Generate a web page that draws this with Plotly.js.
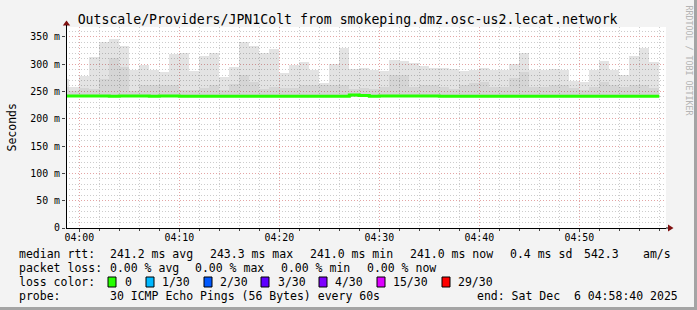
<!DOCTYPE html>
<html><head><meta charset="utf-8">
<script src="https://cdn.plot.ly/plotly-3.0.1.min.js"></script>
<style>html,body{margin:0;padding:0;background:#f3f3f3;overflow:hidden}#chart{width:697px;height:310px}</style>
</head><body><div id="chart"></div>
<script>
// ---------- data ----------
const day = '2025-12-06 ';
const firstStepStart = '03:58';
const stepEnds = ['03:59','04:00','04:01','04:02','04:03','04:04','04:05','04:06','04:07','04:08','04:09',
  '04:10','04:11','04:12','04:13','04:14','04:15','04:16','04:17','04:18','04:19',
  '04:20','04:21','04:22','04:23','04:24','04:25','04:26','04:27','04:28','04:29',
  '04:30','04:31','04:32','04:33','04:34','04:35','04:36','04:37','04:38','04:39',
  '04:40','04:41','04:42','04:43','04:44','04:45','04:46','04:47','04:48','04:49',
  '04:50','04:51','04:52','04:53','04:54','04:55','04:56','04:57','04:58'];
const smokeFloor = 240;
const smokeMax = [272,258,278,313,340,346,333,290,298,290,285,319,320,288,315,321,276,294,340,333,
  321,327,284,299,304,289,266,300,330,291,293,289,288,307,305,302,297,293,293,292,
  288,290,293,289,290,301,321,290,290,292,289,270,267,290,305,290,280,315,330,304];
const smokeInner = [258,250,256,255,272,311,295,250,261,261,261,261,252,252,256,262,252,263,281,267,
  254,258,257,257,261,262,261,261,261,255,256,255,258,281,280,258,261,261,258,255,
  261,266,267,258,258,274,286,258,258,262,262,256,253,258,267,261,258,261,261,257];
const medianRtt = [241.5,241.5,241.5,241.5,241.5,241.0,241.5,241.5,241.5,241.0,241.5,241.5,
  241.0,241.0,241.0,241.0,241.0,241.0,241.0,241.0,241.0,241.0,241.0,241.0,241.0,241.0,241.0,241.0,241.0,
  243.3,242.8,241.0,241.5,241.5,241.5,241.5,241.5,241.5,
  241.0,241.0,241.0,241.0,241.0,241.0,241.0,241.0,241.0,241.0,241.0,241.0,241.0,241.0,241.0,241.0,241.0,241.0,241.0,241.0,241.0,241.0];
const yTickVals = [0,50,100,150,200,250,300,350];
const yTickText = ['0','50 m','100 m','150 m','200 m','250 m','300 m','350 m'];
const titleText = 'Outscale/Providers/JPN1Colt from smokeping.dmz.osc-us2.lecat.network';
const rowLabels = ['median rtt:','packet loss:','loss color:','probe:'];
const statsRtt = ['241.2 ms avg','243.3 ms max','241.0 ms min','241.0 ms now','0.4 ms sd','542.3','am/s'];
const statsLoss = ['0.00 % avg','0.00 % max','0.00 % min','0.00 % now'];
const lossLabels = ['0','1/30','2/30','3/30','4/30','15/30','29/30'];
const lossColors = ['#26ff00','#00b8ff','#0059ff','#5e00ff','#7e00ff','#dd00ff','#ff0000'];
const probeText = '30 ICMP Echo Pings (56 Bytes) every 60s';
const endText = 'end: Sat Dec\u00a0\u00a06 04:58:40 2025';

// ---------- layout geometry (pixels) ----------
const W = 697, H = 310, L = 66, R = 666, T = 27, B = 228;
const px = x => (x - L) / (R - L);
const py = y => (B - y) / (B - T);
const rowY = [254, 268, 282, 296];
const rttX = [108, 208, 308, 408, 508, 582, 641];
const lossX = [108, 192.5, 279, 364.5];
const boxX = [108, 146, 204, 261, 319, 377, 442];
const boxLabelX = [123, 160, 218, 275.5, 333, 391, 456];
const mono = 'DejaVu Sans Mono, monospace';

const times = stepEnds.map(t => day + t);
const traces = [
  {type:'bar', x:times, base:smokeFloor, y:smokeMax.map(v => v - smokeFloor), width:60000, offset:-60000,
   marker:{color:'rgba(0,0,0,0.11)', line:{width:0}}, hoverinfo:'skip'},
  {type:'bar', x:times, base:smokeFloor, y:smokeInner.map(v => v - smokeFloor), width:60000, offset:-60000,
   marker:{color:'rgba(0,0,0,0.06)', line:{width:0}}, hoverinfo:'skip'},
  {type:'scatter', mode:'lines', x:[day + firstStepStart].concat(times.slice(0, -1)).concat([times[times.length-1]]),
   y:medianRtt.concat([medianRtt[medianRtt.length-1]]), line:{shape:'hv', width:3, color:lossColors[0]}, hoverinfo:'skip'}
];

const ann = [];
const txt = (x, y, text, opts) => ann.push(Object.assign({xref:'paper', yref:'paper', x:px(x), y:py(y), text:text,
  showarrow:false, xanchor:'left', yanchor:'middle', font:{family:mono, size:11.5, color:'#000'}}, opts || {}));
rowLabels.forEach((t, i) => txt(16.5, rowY[i], t));
statsRtt.forEach((t, i) => txt(rttX[i], rowY[0], t));
statsLoss.forEach((t, i) => txt(lossX[i], rowY[1], t));
lossLabels.forEach((t, i) => txt(boxLabelX[i], rowY[2], t));
txt(108, rowY[3], probeText);
txt(680, rowY[3], endText, {xanchor:'right'});
txt(11, 127.5, 'Seconds', {xanchor:'center', textangle:-90});
txt(688.5, 60, 'RRDTOOL / TOBI OETIKER', {xanchor:'center', textangle:90, font:{family:mono, size:8.3, color:'#b4b4b4'}});

const shapes = [];
lossColors.forEach((c, i) => shapes.push({type:'rect', xref:'paper', yref:'paper',
  x0:px(boxX[i]), x1:px(boxX[i] + 8), y0:py(rowY[2] + 5), y1:py(rowY[2] - 5),
  fillcolor:c, line:{color:'#000', width:1}}));
// axis arrows
shapes.push({type:'path', xref:'paper', yref:'paper', fillcolor:'#7f1010', line:{width:0},
  path:`M ${px(62.8)} ${py(25.5)} L ${px(66.5)} ${py(20.5)} L ${px(70.2)} ${py(25.5)} Z`});
shapes.push({type:'line', xref:'paper', yref:'paper', x0:px(66.5), x1:px(66.5), y0:py(228), y1:py(25), line:{color:'#000', width:1}});
shapes.push({type:'path', xref:'paper', yref:'paper', fillcolor:'#7f1010', line:{width:0},
  path:`M ${px(668)} ${py(224.5)} L ${px(673.5)} ${py(228)} L ${px(668)} ${py(231.5)} Z`});
shapes.push({type:'line', xref:'paper', yref:'paper', x0:px(666), x1:px(668), y0:py(228), y1:py(228), line:{color:'#000', width:1}});
// frame
shapes.push({type:'rect', xref:'paper', yref:'paper', x0:px(694), x1:px(698), y0:py(-1), y1:py(311), fillcolor:'#a4a4a4', line:{width:0}});
shapes.push({type:'rect', xref:'paper', yref:'paper', x0:px(-1), x1:px(698), y0:py(307), y1:py(311), fillcolor:'#a4a4a4', line:{width:0}});

const gridDash = '1px,2px';
const layout = {
  width:W, height:H, margin:{l:L, r:W - R, t:T, b:H - B, pad:0},
  paper_bgcolor:'#f3f3f3', plot_bgcolor:'#ffffff', showlegend:false, barmode:'overlay', bargap:0,
  title:{text:titleText, font:{family:mono, size:13.2, color:'#000'}, xref:'paper', x:px(347.6), xanchor:'center',
         yref:'container', y:1 - 19/H, yanchor:'middle'},
  xaxis:{type:'date', range:[day + '03:58:40', day + '04:58:40'], tick0:day + '04:00', dtick:600000, tickformat:'%H:%M',
         showgrid:true, gridcolor:'#e4a4a4', griddash:gridDash, gridwidth:1,
         minor:{dtick:120000, showgrid:true, gridcolor:'#cccccc', griddash:gridDash, ticks:'outside', ticklen:2, tickcolor:'#444'},
         ticks:'outside', ticklen:3, tickcolor:'#444', showline:true, linecolor:'#000', linewidth:1, zeroline:false,
         ticklabelstandoff:-3,
         tickfont:{family:mono, size:9.9, color:'#000'}, fixedrange:true},
  yaxis:{range:[0, 368], tickvals:yTickVals, ticktext:yTickText,
         showgrid:true, gridcolor:'#e4a4a4', griddash:gridDash, gridwidth:1,
         minor:{dtick:10, showgrid:true, gridcolor:'#cccccc', griddash:gridDash},
         ticks:'outside', ticklen:3, tickcolor:'#444', showline:false, zeroline:false,
         tickfont:{family:mono, size:9.9, color:'#000'}, fixedrange:true},
  annotations:ann, shapes:shapes
};
Plotly.newPlot('chart', traces, layout, {displayModeBar:false, staticPlot:true});
</script></body></html>
